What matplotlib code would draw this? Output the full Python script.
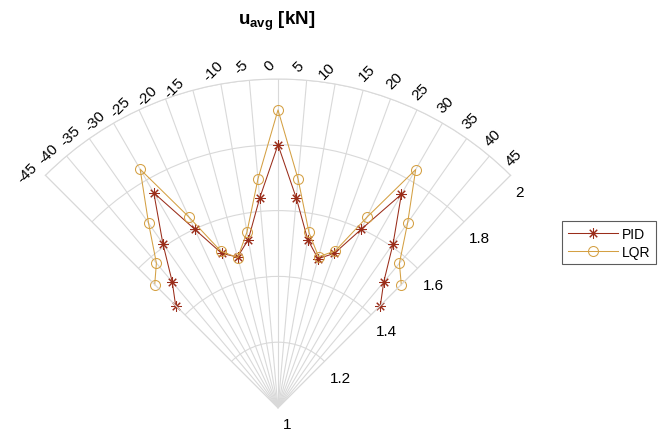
import numpy as np
import matplotlib
matplotlib.use("Agg")
import matplotlib.pyplot as plt
from matplotlib.transforms import ScaledTranslation

plt.rcParams['font.family'] = ['Liberation Sans', 'DejaVu Sans']
plt.rcParams['mathtext.fontset'] = 'custom'
plt.rcParams['mathtext.rm'] = 'Liberation Sans'
plt.rcParams['mathtext.bf'] = 'Liberation Sans:bold'

# Heading angle [deg] and average control effort [kN]
angles_deg = [-45, -40, -35, -30, -25, -20, -15, -10, -5, 0,
              5, 10, 15, 20, 25, 30, 35, 40, 45]
u_pid = [1.44, 1.50, 1.61, 1.755, 1.60, 1.50, 1.475, 1.52, 1.64, 1.80,
         1.64, 1.52, 1.47, 1.50, 1.60, 1.75, 1.61, 1.50, 1.44]
u_lqr = [1.53, 1.575, 1.686, 1.838, 1.64, 1.507, 1.473, 1.543, 1.699, 1.906,
         1.699, 1.542, 1.476, 1.508, 1.64, 1.837, 1.687, 1.574, 1.53]

theta_ticks = list(range(-45, 50, 5))
r_ticks = [1, 1.2, 1.4, 1.6, 1.8, 2]
r_tick_labels = ['1', '1.2', '1.4', '1.6', '1.8', '2']

pid_color = '#9a2d1a'
lqr_color = '#d4a043'
grid_color = '#d9d9d9'

W, H = 666, 435
fig = plt.figure(figsize=(W / 100, H / 100), dpi=100)
# wedge: apex at (278, 409) px from top-left, outer radius 329 px
R = 329.0
apex = np.array([278.0, H - 409.0])
ax = fig.add_axes([0.1, 0.1, 0.7, 0.7], projection='polar')
ax.set_theta_zero_location('N')
ax.set_theta_direction(-1)
ax.set_thetamin(-45)
ax.set_thetamax(45)
ax.set_rlim(1, 2)

ax.set_xticks(np.deg2rad(theta_ticks))
ax.set_xticklabels([])
ax.set_yticks(r_ticks)
ax.set_yticklabels([])
ax.tick_params(length=0)
ax.grid(True, color=grid_color, linewidth=0.8)
for sp in ax.spines.values():
    sp.set_color(grid_color)
    sp.set_linewidth(0.8)

# size and place the wedge so that its apex and outer radius land where wanted
for _ in range(4):
    fig.canvas.draw()
    p0 = ax.transData.transform((0.0, 1.0))
    p1 = ax.transData.transform((0.0, 2.0))
    rad = p1[1] - p0[1]
    pos = ax.get_position()
    s = R / rad
    x0 = pos.x0 * W
    y0 = pos.y0 * H
    nx0 = apex[0] + (x0 - p0[0]) * s
    ny0 = apex[1] + (y0 - p0[1]) * s
    ax.set_position([nx0 / W, ny0 / H, pos.width * s, pos.height * s])

th = np.deg2rad(angles_deg)
ax.plot(th, u_pid, color=pid_color, linewidth=0.75, marker=(8, 2, 0),
        markersize=7.5, markeredgewidth=0.75, label='PID', clip_on=False)
ax.plot(th, u_lqr, color=lqr_color, linewidth=0.75, marker='o',
        markersize=7.2, markerfacecolor='none', markeredgewidth=0.75,
        label='LQR', clip_on=False)


def off(dx_px, dy_px):
    return ax.transData + ScaledTranslation(dx_px / 100.0, -dy_px / 100.0,
                                            fig.dpi_scale_trans)


# angular tick labels around the outer arc
for t in theta_ticks:
    if t <= -15:
        dx, dy = -18.5, -3.0
    elif t <= 10:
        dx, dy = -8.0, -14.0
    else:
        dx, dy = 3.5, -18.5
    ax.text(np.deg2rad(t), 2, str(t), transform=off(dx, dy), rotation=45,
            ha='center', va='center', fontsize=11, rotation_mode='anchor',
            clip_on=False)

# radial tick labels along the right edge
for r, lab in zip(r_ticks, r_tick_labels):
    ax.text(np.deg2rad(45), r, lab, transform=off(5, 16.5), ha='left',
            va='center', fontsize=11, clip_on=False)

fig.text(277 / W, 1 - 25 / H, r'$\mathbf{u_{avg}}$ [kN]', ha='center',
         va='baseline', fontsize=13.5, fontweight='bold')

leg = fig.legend(loc='upper left', bbox_to_anchor=(562 / W, 1 - 222 / H),
                 fontsize=10, frameon=True, fancybox=False, edgecolor='#333333',
                 handlelength=3.6, handletextpad=0.3, borderpad=0.4,
                 labelspacing=0.3, borderaxespad=0)
leg.get_frame().set_linewidth(0.8)

fig.savefig('out.png', dpi=100)
